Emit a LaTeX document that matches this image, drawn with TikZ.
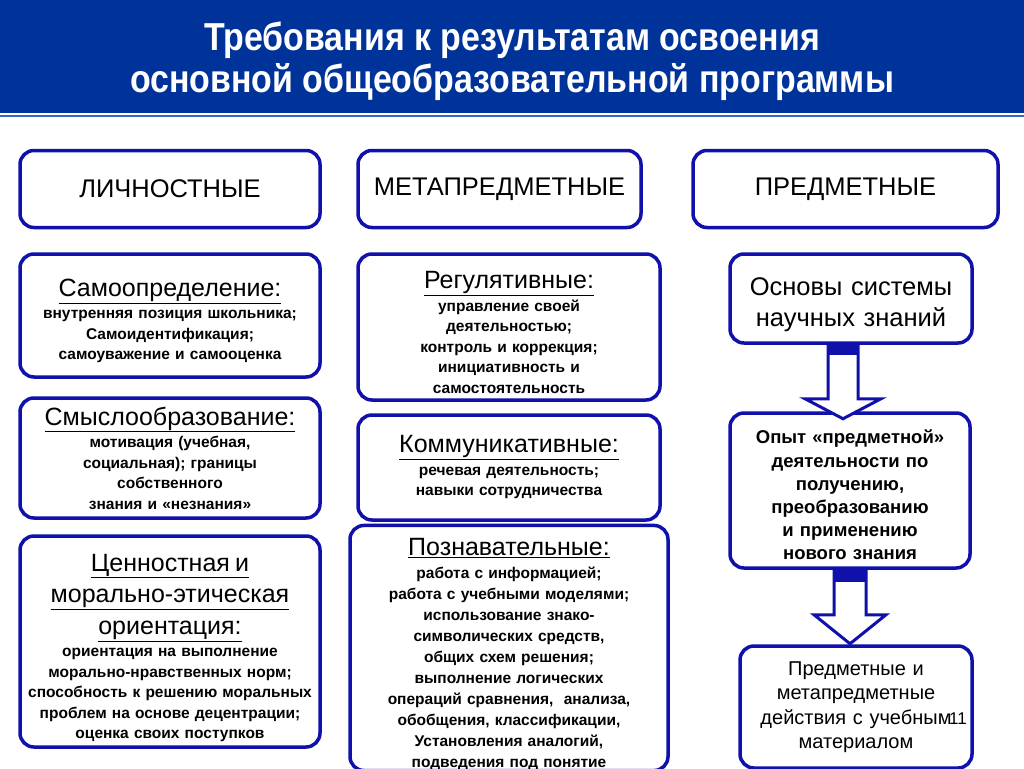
\documentclass[tikz,border=0pt]{standalone}
\usepackage{fontspec}
\setmainfont{Liberation Sans}
\newfontfamily\titlefont[FakeStretch=0.87]{Liberation Sans}
\usetikzlibrary{calc}
\definecolor{headblue}{RGB}{0,51,153}
\definecolor{boxblue}{RGB}{16,16,170}
\definecolor{lineblue}{RGB}{60,100,200}
\newcommand{\ttl}[1]{{\mdseries\fontsize{25}{29}\selectfont\underline{#1}\par}\vspace{2pt}}
\newcommand{\lift}[1]{\rule{0pt}{#1pt}}

\begin{document}
\begin{tikzpicture}[x=1pt,y=-1pt,
  box/.style={draw=boxblue,line width=3.5pt,rounded corners=14pt,fill=white,
    align=center,inner sep=0pt},
  catbox/.style={box,font=\fontsize{25.5}{30}\selectfont},
  txtbox/.style={box,font=\bfseries\fontsize{15.5}{20.5}\selectfont},
  blockarrow/.style={draw=boxblue,line width=3pt,fill=white,line join=miter}]
\useasboundingbox (0,0) rectangle (1024,768);
\fill[white] (0,0) rectangle (1024,768);

% header
\fill[headblue] (0,0) rectangle (1024,113);
\draw[lineblue,line width=2pt] (0,116) -- (1024,116);
\node[text=white,align=center,font=\titlefont\bfseries\fontsize{39}{42}\selectfont]
  (title) at (512,61) {Требования к результатам освоения\\
  основной общеобразовательной программы};

% three kinds of results
\node[catbox,minimum width=300,minimum height=77] (lich) at (170,189) {ЛИЧНОСТНЫЕ};
\node[catbox,minimum width=283,minimum height=77] (meta) at (499.5,189) {МЕТАПРЕДМЕТНЫЕ};
\node[catbox,minimum width=305,minimum height=77] (pred) at (845.5,189) {ПРЕДМЕТНЫЕ};

% left column
\node[txtbox,minimum width=300,minimum height=123,text width=296] (samo) at (170,315.5)
  {\ttl{\lift{28}Самоопределение:}
   внутренняя позиция школьника;\\ Самоидентификация;\\ самоуважение и самооценка};
\node[txtbox,minimum width=300,minimum height=120,text width=296] (smysl) at (170,458)
  {\ttl{Смыслообразование:}
   мотивация (учебная,\\ социальная); границы\\ собственного\\ знания и «незнания»};
\node[txtbox,minimum width=300,minimum height=211,text width=296] (cenn) at (170,641.5)
  {{\mdseries\fontsize{25}{31.5}\selectfont\lift{30}\underline{Ценностная и}\\
    \underline{морально-этическая}\\ \underline{ориентация:}\par}\vspace{2pt}
   ориентация на выполнение\\ морально-нравственных норм;\\
   способность к решению моральных\\ проблем на основе децентрации;\\
   оценка своих поступков};

% middle column
\node[txtbox,minimum width=302,minimum height=146,text width=298] (reg) at (509,327)
  {\ttl{\lift{28}Регулятивные:}
   управление своей\\ деятельностью;\\ контроль и коррекция;\\
   инициативность и\\ самостоятельность};
\node[txtbox,minimum width=302,minimum height=105,text width=298] (komm) at (509,467.5)
  {\ttl{Коммуникативные:}
   речевая деятельность;\\ навыки сотрудничества};
\node[txtbox,minimum width=318,minimum height=242,text width=314,
  font=\bfseries\fontsize{15.5}{21}\selectfont] (pozn) at (509,648)
  {\ttl{\lift{30}Познавательные:}
   работа с информацией;\\ работа с учебными моделями;\\ использование знако-\\
   символических средств,\\ общих схем решения;\\ выполнение логических\\
   операций сравнения,\ \ анализа,\\ обобщения, классификации,\\
   Установления аналогий,\\ подведения под понятие};

% right column
\node[box,minimum width=242,minimum height=89,text width=238,
  font=\fontsize{25.5}{31}\selectfont] (osn) at (851,298.5)
  {\lift{30}Основы системы\\ научных знаний};
\node[box,minimum width=240,minimum height=155,text width=236,
  font=\bfseries\fontsize{18.5}{23.2}\selectfont] (opyt) at (850,490.5)
  {\lift{23}Опыт «предметной»\\ деятельности по\\ получению,\\ преобразованию\\ и применению\\ нового знания};
\node[box,minimum width=232,minimum height=122,text width=228,
  font=\fontsize{20}{24.5}\selectfont] (dejs) at (856,707)
  {Предметные и\\ метапредметные\\ действия с учебным\\ материалом\par\vspace*{4pt}};
\node[font=\fontsize{17}{20}\selectfont] (num) at (958,719) {11};

% block arrows
\coordinate (ar1) at ($(osn.south)+(-8,0)$);
\draw[blockarrow] ($(ar1)+(-15,0)$) -- ++(0,54) -- ++(-23,0) -- ($(ar1)+(0,74)$)
  -- ($(ar1)+(38,54)$) -- ++(-23,0) -- ($(ar1)+(15,0)$) -- cycle;
\fill[boxblue] ($(ar1)+(-15,0)$) rectangle ($(ar1)+(15,10)$);
\coordinate (ar2) at (opyt.south);
\draw[blockarrow] ($(ar2)+(-16,0)$) -- ++(0,45) -- ++(-20,0) -- ($(ar2)+(0,74)$)
  -- ($(ar2)+(36,45)$) -- ++(-20,0) -- ($(ar2)+(16,0)$) -- cycle;
\fill[boxblue] ($(ar2)+(-16,0)$) rectangle ($(ar2)+(16,12)$);
\end{tikzpicture}
\end{document}
